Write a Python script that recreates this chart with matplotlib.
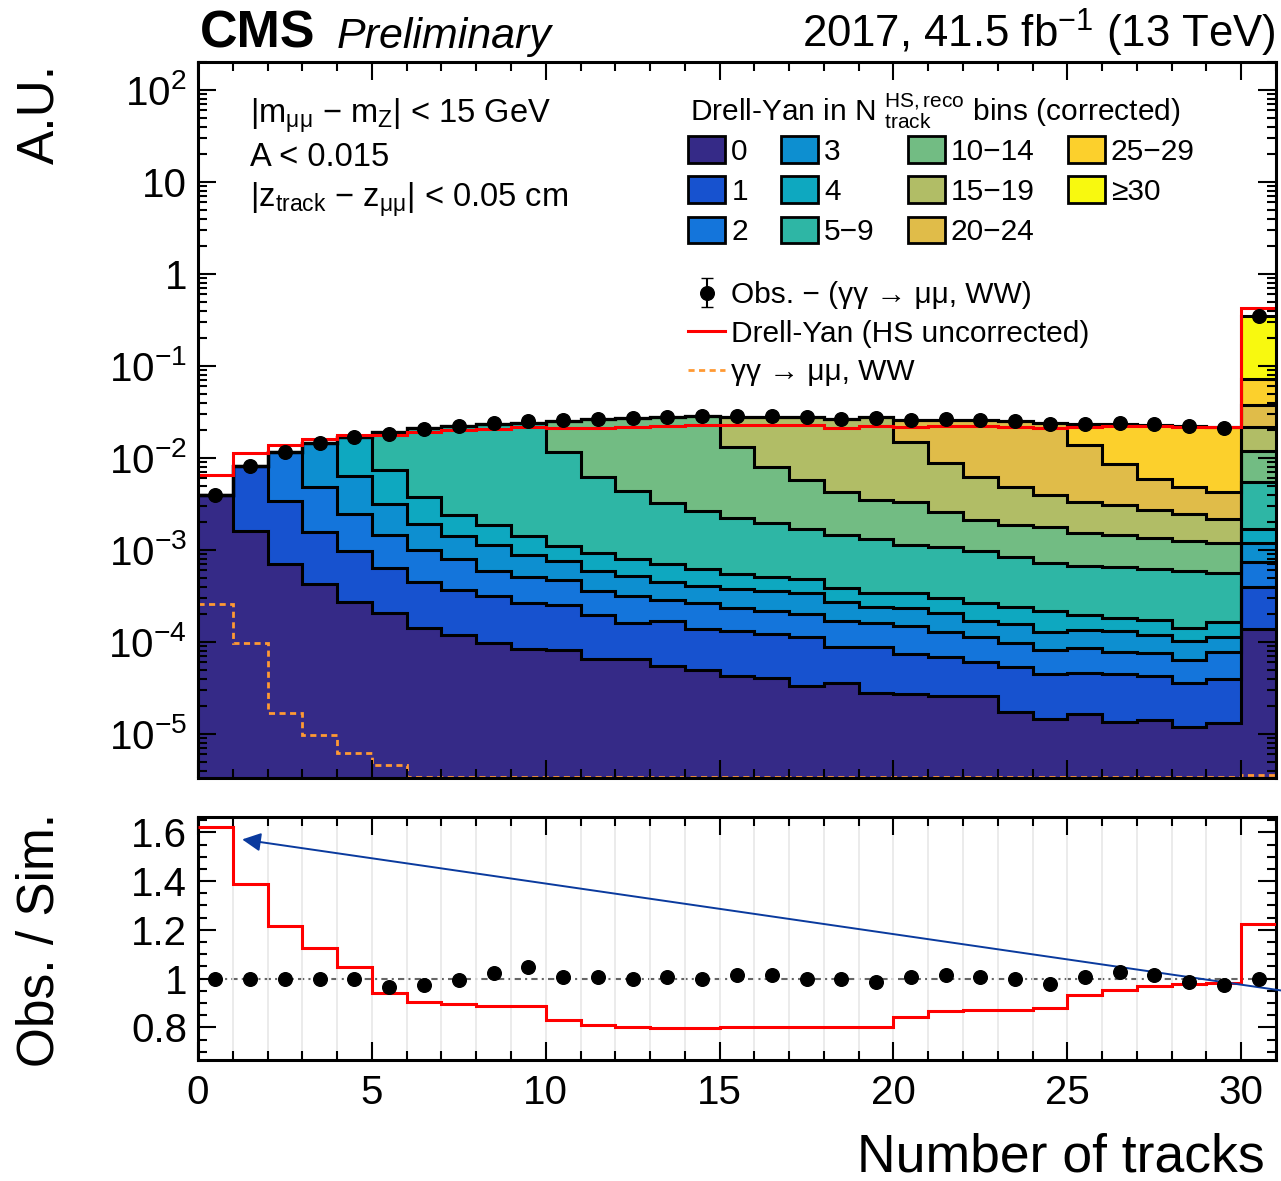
import numpy as np
import matplotlib
matplotlib.use('Agg')
import matplotlib.pyplot as plt
from matplotlib.patches import Patch
from matplotlib.lines import Line2D
from matplotlib.ticker import MultipleLocator, LogLocator, FuncFormatter, NullFormatter

plt.rcParams['font.family'] = ['Liberation Sans', 'DejaVu Sans']
plt.rcParams['mathtext.fontset'] = 'custom'
plt.rcParams['mathtext.rm'] = 'Liberation Sans'
plt.rcParams['mathtext.it'] = 'Liberation Sans:italic'
plt.rcParams['mathtext.bf'] = 'Liberation Sans:bold'

# Binning: number of tracks 0..30 (last bin = overflow)
edges = np.arange(0, 32)
centers = edges[:-1] + 0.5

# Drell-Yan contributions per N_track^{HS,reco} category
cat_labels = ['0', '1', '2', '3', '4', '5\u22129', '10\u221214', '15\u221219',
              '20\u221224', '25\u221229', '\u226530']
cat_colors = ['#352a87', '#1752cf', '#1475db', '#0d8fd0', '#0ea8c0', '#2eb6a5',
              '#72bc83', '#b1bd66', '#e0bc49', '#fcd02c', '#f8f90f']

dy_0 = [4.0e-3, 1.6e-3, 7.0e-4, 4.3e-4, 2.7e-4, 2.05e-4, 1.4e-4, 1.2e-4, 9.7e-5, 8.3e-5,
        8.2e-5, 6.5e-5, 6.5e-5, 5.5e-5, 4.9e-5, 4.3e-5, 4.1e-5, 3.35e-5, 3.56e-5, 2.8e-5,
        2.7e-5, 2.6e-5, 2.6e-5, 1.75e-5, 1.45e-5, 1.65e-5, 1.36e-5, 1.42e-5, 1.2e-5, 1.3e-5,
        1.37e-4]
dy_1 = [0, 6.6e-3, 2.7e-3, 1.13e-3, 7.1e-4, 4.3e-4, 3.1e-4, 2.5e-4, 2.2e-4, 1.8e-4,
        1.7e-4, 1.3e-4, 9.7e-5, 1.15e-4, 8.8e-5, 9.0e-5, 8.1e-5, 7.9e-5, 5.2e-5, 5.9e-5,
        4.65e-5, 4.3e-5, 3.5e-5, 3.65e-5, 3.0e-5, 3.0e-5, 3.1e-5, 2.8e-5, 2.4e-5, 2.7e-5,
        2.6e-4]
dy_2 = [0, 0, 8.1e-3, 3.25e-3, 1.48e-3, 8.3e-4, 5.5e-4, 4.2e-4, 2.8e-4, 2.5e-4,
        2.2e-4, 1.65e-4, 1.54e-4, 1.16e-4, 1.27e-4, 1.0e-4, 9.5e-5, 8.9e-5, 8.3e-5, 7.5e-5,
        7.6e-5, 6.0e-5, 5.3e-5, 4.3e-5, 3.7e-5, 4.0e-5, 3.4e-5, 3.3e-5, 2.8e-5, 3.8e-5,
        3.5e-4]
dy_3 = [0, 0, 0, 9.6e-3, 3.9e-3, 1.7e-3, 9.2e-4, 6.3e-4, 5.4e-4, 3.7e-4,
        2.9e-4, 2.3e-4, 2.0e-4, 1.66e-4, 1.42e-4, 1.42e-4, 1.44e-4, 1.37e-4, 1.04e-4, 8.0e-5,
        8.3e-5, 7.6e-5, 5.5e-5, 5.9e-5, 4.7e-5, 4.8e-5, 5.4e-5, 4.4e-5, 3.9e-5, 3.6e-5,
        4.3e-4]
dy_4 = [0, 0, 0, 0, 1.04e-2, 4.2e-3, 1.8e-3, 9.8e-4, 7.1e-4, 5.2e-4,
        3.5e-4, 3.45e-4, 2.8e-4, 2.5e-4, 2.1e-4, 1.74e-4, 1.52e-4, 1.42e-4, 1.1e-4, 1.0e-4,
        1.11e-4, 9.3e-5, 9.5e-5, 8.6e-5, 8.8e-5, 6.1e-5, 4.9e-5, 5.4e-5, 3.9e-5, 5.2e-5,
        5.0e-4]
dy_5_9 = [0, 0, 0, 0, 0, 1.16e-2, 1.73e-2, 1.99e-2, 2.16e-2, 2.28e-2,
          1.06e-2, 5.2e-3, 3.6e-3, 2.57e-3, 2.03e-3, 1.7e-3, 1.44e-3, 1.2e-3, 1.08e-3, 9.7e-4,
          7.9e-4, 7.7e-4, 7.0e-4, 6.0e-4, 5.0e-4, 4.7e-4, 4.7e-4, 4.4e-4, 4.5e-4, 4.0e-4,
          3.84e-3]
dy_10_14 = [0, 0, 0, 0, 0, 0, 0, 0, 0, 0,
            1.37e-2, 2.01e-2, 2.26e-2, 2.44e-2, 2.62e-2, 1.1e-2, 6.1e-3, 4.1e-3, 2.84e-3, 2.18e-3,
            2.19e-3, 1.54e-3, 1.16e-3, 1.03e-3, 1.05e-3, 8.7e-4, 8.1e-4, 7.5e-4, 6.6e-4, 6.1e-4,
            6.5e-3]
dy_15_19 = [0, 0, 0, 0, 0, 0, 0, 0, 0, 0,
            0, 0, 0, 0, 0, 1.48e-2, 2.0e-2, 2.23e-2, 2.22e-2, 2.42e-2,
            1.17e-2, 6.1e-3, 4.14e-3, 3.0e-3, 2.19e-3, 1.81e-3, 1.62e-3, 1.35e-3, 1.2e-3, 9.8e-4,
            9.9e-3]
dy_20_24 = [0, 0, 0, 0, 0, 0, 0, 0, 0, 0,
            0, 0, 0, 0, 0, 0, 0, 0, 0, 0,
            1.09e-2, 1.72e-2, 1.95e-2, 2.03e-2, 2.02e-2, 1.05e-2, 5.5e-3, 3.15e-3, 2.34e-3, 2.14e-3,
            1.58e-2]
dy_25_29 = [0, 0, 0, 0, 0, 0, 0, 0, 0, 0,
            0, 0, 0, 0, 0, 0, 0, 0, 0, 0,
            0, 0, 0, 0, 0, 9.4e-3, 1.46e-2, 1.69e-2, 1.75e-2, 1.76e-2,
            3.4e-2]
dy_30 = [0] * 30 + [0.278]

stack = np.array([dy_0, dy_1, dy_2, dy_3, dy_4, dy_5_9, dy_10_14, dy_15_19,
                  dy_20_24, dy_25_29, dy_30])

# ratio panel values
obs_ratio = np.array([1.0, 1.0, 1.0, 1.0, 1.0, 0.966, 0.972, 0.993, 1.021, 1.048,
                      1.007, 1.007, 1.0, 1.007, 1.0, 1.014, 1.014, 1.0, 1.0, 0.986,
                      1.007, 1.014, 1.007, 1.0, 0.979, 1.007, 1.028, 1.014, 0.986, 0.972,
                      1.0])
dy_uncorr_ratio = np.array([1.623, 1.389, 1.214, 1.127, 1.047, 0.941, 0.906, 0.895, 0.888, 0.888,
                            0.830, 0.810, 0.803, 0.796, 0.796, 0.803, 0.803, 0.803, 0.803, 0.803,
                            0.844, 0.865, 0.872, 0.872, 0.879, 0.934, 0.954, 0.968, 0.978, 0.982,
                            1.223])

# gamma gamma -> mumu, WW
gg_ww = [2.6e-4, 9.8e-5, 1.7e-5, 9.8e-6, 6.2e-6, 4.6e-6] + [3.4e-6] * 24 + [3.6e-6]

total = stack.sum(axis=0)
obs = obs_ratio * total
dy_uncorr = dy_uncorr_ratio * total

W, H = 1281, 1181
fig = plt.figure(figsize=(W / 100, H / 100), dpi=100)
ax = fig.add_axes([198 / W, 1 - 778 / H, 1078 / W, 716 / H])
rax = fig.add_axes([198 / W, 1 - 1060 / H, 1078 / W, 243 / H])

# stacked histogram
bottom = np.full(31, 1e-9)
for vals, col in zip(stack, cat_colors):
    top = bottom + vals
    ax.stairs(top, edges, baseline=bottom, fill=True, color=col, lw=0)
    bottom = top
for cum in np.cumsum(stack, axis=0):
    ax.stairs(cum, edges, baseline=None, color='black', lw=2.2)

ax.stairs(dy_uncorr, edges, baseline=None, color='#ff0000', lw=2.2)
ax.stairs(gg_ww, edges, baseline=None, color='#ff9933', lw=2.0, ls=(0, (2.2, 1.6)))
h_obs = ax.errorbar(centers, obs, yerr=np.zeros(31), fmt='o', color='black',
                    ms=9.8, capsize=4, elinewidth=1.5, zorder=5)

ax.set_yscale('log')
ax.set_xlim(0, 31)
ax.set_ylim(3.32e-6, 201)
ax.xaxis.set_major_locator(MultipleLocator(5))
ax.xaxis.set_minor_locator(MultipleLocator(1))
ax.yaxis.set_major_locator(LogLocator(base=10, numticks=20))
ax.yaxis.set_minor_locator(LogLocator(base=10, subs=np.arange(2, 10), numticks=20))
ax.yaxis.set_minor_formatter(NullFormatter())


def log_label(v, pos):
    n = int(round(np.log10(v)))
    if n == 0:
        return '1'
    if n == 1:
        return '10'
    return r'$10^{%d}$' % n


ax.yaxis.set_major_formatter(FuncFormatter(log_label))
ax.tick_params(labelbottom=False)

# ratio panel
rax.grid(axis='x', which='both', color='#e8e8e8', lw=1.2, zorder=0)
rax.axhline(1, color='#666666', lw=1.5, ls=(0, (3, 2, 1, 2)), zorder=1)
rax.stairs(dy_uncorr_ratio, edges, baseline=None, color='#ff0000', lw=2.2, zorder=3)
rax.plot(centers, obs_ratio, 'o', color='black', ms=9.8, zorder=4)
rax.set_xlim(0, 31)
rax.set_ylim(0.666, 1.663)
rax.xaxis.set_major_locator(MultipleLocator(5))
rax.xaxis.set_minor_locator(MultipleLocator(1))
rax.yaxis.set_major_locator(MultipleLocator(0.2))
rax.yaxis.set_minor_locator(MultipleLocator(0.05))
rax.yaxis.set_major_formatter(FuncFormatter(lambda v, p: '%g' % round(v, 2)))

for a in (ax, rax):
    a.tick_params(which='both', direction='in', top=True, right=True, width=1.5,
                  labelsize=29, pad=8)
    a.tick_params(which='major', length=13)
    a.tick_params(which='minor', length=6.5)
    for s in a.spines.values():
        s.set_linewidth(2.2)
rax.tick_params(axis='x', pad=10)

# arrow annotation in the ratio panel
rax.annotate('', xy=(1.27, 1.571), xytext=(31.4, 0.946),
             arrowprops=dict(arrowstyle='-|>', color='#0a3a9e', lw=1.4,
                             mutation_scale=28, shrinkA=0, shrinkB=0),
             annotation_clip=False)

# legends
fig.text(690 / W, 1 - 121 / H,
         r'Drell-Yan in N $^{\rm HS,reco}_{\rm track}$ bins (corrected)',
         fontsize=21.5, ha='left', va='baseline')
cat_handles = [Patch(facecolor=c, edgecolor='black', lw=2) for c in cat_colors]
leg1 = ax.legend(cat_handles, cat_labels, ncol=4, loc='upper left',
                 bbox_to_anchor=(688 / W, 1 - 136 / H), bbox_transform=fig.transFigure,
                 frameon=False, fontsize=21.5, handlelength=1.25,
                 handleheight=1.0, handletextpad=0.2, columnspacing=1.1,
                 labelspacing=0.36, borderpad=0, borderaxespad=0)
h_red = Line2D([], [], color='#ff0000', lw=2.2)
h_gg = Line2D([], [], color='#ff9933', lw=2.0, ls=(0, (2.2, 1.6)))
leg2 = ax.legend([h_obs, h_red, h_gg],
                 ['Obs. \u2212 (\u03b3\u03b3 \u2192 \u03bc\u03bc, WW)',
                  'Drell-Yan (HS uncorrected)',
                  '\u03b3\u03b3 \u2192 \u03bc\u03bc, WW'],
                 loc='upper left', bbox_to_anchor=(688 / W, 1 - 281 / H),
                 bbox_transform=fig.transFigure, frameon=False, fontsize=21.5,
                 handlelength=1.25, handletextpad=0.2, labelspacing=0.36,
                 borderpad=0, borderaxespad=0)
ax.add_artist(leg1)

# selection text
cuts = [r'|m$_{\rm \mu\mu}$ $-$ m$_{\rm Z}$| < 15 GeV',
        'A < 0.015',
        r'|z$_{\rm track}$ $-$ z$_{\rm \mu\mu}$| < 0.05 cm']
for txt, yb in zip(cuts, [124, 166, 208]):
    fig.text(250 / W, 1 - yb / H, txt, fontsize=23.5, va='baseline', ha='left')

# header
fig.text(200 / W, 1 - 48 / H, 'CMS', fontsize=37.5, fontweight='bold', va='baseline')
fig.text(337 / W, 1 - 48 / H, 'Preliminary', fontsize=31, style='italic', va='baseline')
fig.text(1276 / W, 1 - 48 / H, r'2017, 41.5 fb$^{-1}$ (13 TeV)', fontsize=31.5,
         ha='right', va='baseline')

# axis titles
fig.text(40 / W, 1 - 64 / H, 'A.U.', fontsize=37, rotation=90, ha='center', va='top')
fig.text(40 / W, 1 - 940 / H, 'Obs. / Sim.', fontsize=37, rotation=90,
         ha='center', va='center')
fig.text(1265 / W, 1 - 1157 / H, 'Number of tracks', fontsize=38.5, ha='right',
         va='center')

fig.savefig('out.png', dpi=100)
